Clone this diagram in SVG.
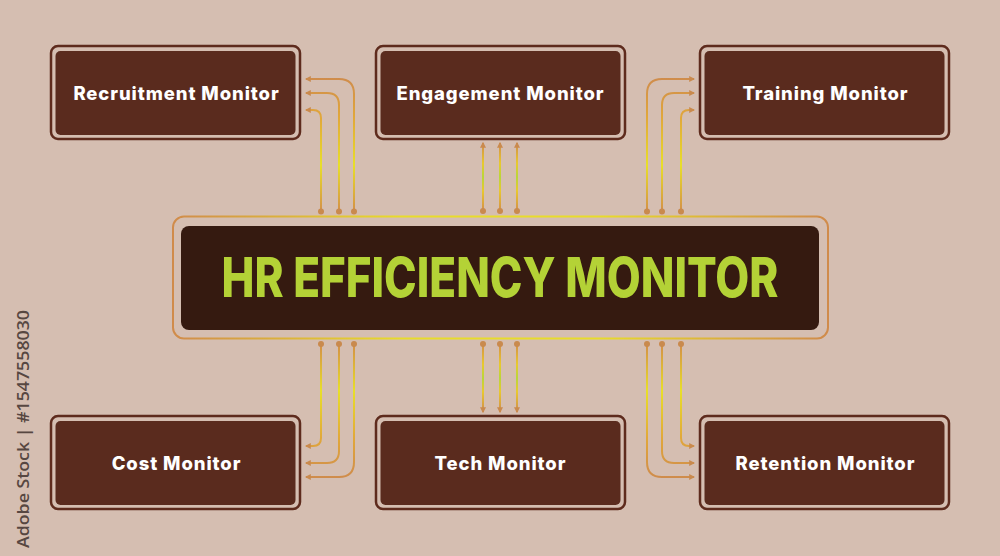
<svg xmlns="http://www.w3.org/2000/svg" width="1000" height="556" viewBox="0 0 1000 556">
<style>
.frame{fill:none;stroke:#5e2b1d;stroke-width:2.5}
.fill{fill:#5a2b1e}
.lbl{font-family:Inter,"Open Sans","Liberation Sans",sans-serif;font-weight:800;font-size:18.5px;letter-spacing:0.9px;fill:#ffffff;text-anchor:middle;dominant-baseline:central}
.dot{fill:#c98a4e}
.ln{fill:none;stroke-width:2}
</style>
<defs>
<marker id="ah" viewBox="0 0 10 10" refX="8" refY="5" markerWidth="6" markerHeight="6" markerUnits="userSpaceOnUse" orient="auto">
<path d="M0,0 L10,5 L0,10 z" fill="#c98a4e"/>
</marker>
<linearGradient id="gTop" gradientUnits="userSpaceOnUse" x1="0" y1="78" x2="0" y2="212">
<stop offset="0" stop-color="#cf8c4c"/><stop offset="0.3" stop-color="#e1a83a"/><stop offset="0.65" stop-color="#e8df28"/><stop offset="1" stop-color="#d38f48"/>
</linearGradient>
<linearGradient id="gBot" gradientUnits="userSpaceOnUse" x1="0" y1="344" x2="0" y2="478">
<stop offset="0" stop-color="#d38f48"/><stop offset="0.35" stop-color="#e8df28"/><stop offset="0.7" stop-color="#e1a83a"/><stop offset="1" stop-color="#cf8c4c"/>
</linearGradient>
<linearGradient id="gTM" gradientUnits="userSpaceOnUse" x1="0" y1="143" x2="0" y2="211">
<stop offset="0" stop-color="#cf8c4c"/><stop offset="0.3" stop-color="#e8c92e"/><stop offset="0.5" stop-color="#b9d63a"/><stop offset="0.7" stop-color="#e8c92e"/><stop offset="1" stop-color="#d38f48"/>
</linearGradient>
<linearGradient id="gBM" gradientUnits="userSpaceOnUse" x1="0" y1="344" x2="0" y2="412">
<stop offset="0" stop-color="#d38f48"/><stop offset="0.3" stop-color="#e8c92e"/><stop offset="0.5" stop-color="#b9d63a"/><stop offset="0.7" stop-color="#e8c92e"/><stop offset="1" stop-color="#cf8c4c"/>
</linearGradient>
<linearGradient id="gFrame" gradientUnits="userSpaceOnUse" x1="172" y1="0" x2="828" y2="0">
<stop offset="0" stop-color="#d08b4b"/><stop offset="0.35" stop-color="#e8dc2a"/><stop offset="0.65" stop-color="#e8dc2a"/><stop offset="1" stop-color="#d08b4b"/>
</linearGradient>
</defs>
<rect x="0" y="0" width="1000" height="556" fill="#d5beb1"/>
<text x="0" y="0" transform="translate(29,548) rotate(-90)" font-family="'Open Sans','Liberation Sans',sans-serif" font-size="17" font-weight="600" fill="#574741" textLength="238" lengthAdjust="spacingAndGlyphs">Adobe Stock | #1547558030</text>

<g id="connectors">
<path class="ln" stroke="url(#gTop)" marker-end="url(#ah)" d="M354,212 V94 Q354,79 339,79 H306"/>
<path class="ln" stroke="url(#gTop)" marker-end="url(#ah)" d="M339,212 V105 Q339,93 327,93 H306"/>
<path class="ln" stroke="url(#gTop)" marker-end="url(#ah)" d="M321,212 V118 Q321,110 313,110 H306"/>
<path class="ln" stroke="url(#gTop)" marker-end="url(#ah)" d="M647,212 V94 Q647,79 662,79 H694"/>
<path class="ln" stroke="url(#gTop)" marker-end="url(#ah)" d="M662,212 V105 Q662,93 674,93 H694"/>
<path class="ln" stroke="url(#gTop)" marker-end="url(#ah)" d="M681,212 V118 Q681,110 689,110 H694"/>
<path class="ln" stroke="url(#gTM)" marker-end="url(#ah)" d="M483,211 V143"/>
<path class="ln" stroke="url(#gTM)" marker-end="url(#ah)" d="M500,211 V143"/>
<path class="ln" stroke="url(#gTM)" marker-end="url(#ah)" d="M517,211 V143"/>
<path class="ln" stroke="url(#gBot)" marker-end="url(#ah)" d="M321,344 V438 Q321,446 313,446 H306"/>
<path class="ln" stroke="url(#gBot)" marker-end="url(#ah)" d="M339,344 V451 Q339,463 327,463 H306"/>
<path class="ln" stroke="url(#gBot)" marker-end="url(#ah)" d="M354,344 V462 Q354,477 339,477 H306"/>
<path class="ln" stroke="url(#gBot)" marker-end="url(#ah)" d="M681,344 V438 Q681,446 689,446 H694"/>
<path class="ln" stroke="url(#gBot)" marker-end="url(#ah)" d="M662,344 V451 Q662,463 674,463 H694"/>
<path class="ln" stroke="url(#gBot)" marker-end="url(#ah)" d="M647,344 V462 Q647,477 662,477 H694"/>
<path class="ln" stroke="url(#gBM)" marker-end="url(#ah)" d="M483,344 V412"/>
<path class="ln" stroke="url(#gBM)" marker-end="url(#ah)" d="M500,344 V412"/>
<path class="ln" stroke="url(#gBM)" marker-end="url(#ah)" d="M517,344 V412"/>
<circle class="dot" cx="321" cy="211.5" r="3"/><circle class="dot" cx="339" cy="211.5" r="3"/><circle class="dot" cx="354" cy="211.5" r="3"/>
<circle class="dot" cx="483" cy="211" r="3"/><circle class="dot" cx="500" cy="211" r="3"/><circle class="dot" cx="517" cy="211" r="3"/>
<circle class="dot" cx="647" cy="211.5" r="3"/><circle class="dot" cx="662" cy="211.5" r="3"/><circle class="dot" cx="681" cy="211.5" r="3"/>
<circle class="dot" cx="321" cy="344" r="3"/><circle class="dot" cx="339" cy="344" r="3"/><circle class="dot" cx="354" cy="344" r="3"/>
<circle class="dot" cx="483" cy="344" r="3"/><circle class="dot" cx="500" cy="344" r="3"/><circle class="dot" cx="517" cy="344" r="3"/>
<circle class="dot" cx="647" cy="344" r="3"/><circle class="dot" cx="662" cy="344" r="3"/><circle class="dot" cx="681" cy="344" r="3"/>
</g>

<g id="hub">
<rect x="173" y="216.5" width="655" height="122" rx="11" fill="none" stroke="url(#gFrame)" stroke-width="2"/>
<rect x="181" y="226" width="638" height="104" rx="8" fill="#351a10"/>
<text x="500" y="297" font-family="Inter,'Liberation Sans',sans-serif" font-weight="800" font-size="55" fill="#b4d236" text-anchor="middle" textLength="557" lengthAdjust="spacingAndGlyphs">HR EFFICIENCY MONITOR</text>
</g>

<g id="recruitment">
<rect class="frame" x="51" y="46" width="249" height="93" rx="7"/>
<rect class="fill" x="55.5" y="51" width="240" height="84" rx="5"/>
<text class="lbl" x="176.5" y="93">Recruitment Monitor</text>
</g>
<g id="engagement">
<rect class="frame" x="376" y="46" width="249" height="93" rx="7"/>
<rect class="fill" x="380.5" y="51" width="240" height="84" rx="5"/>
<text class="lbl" x="500.5" y="93">Engagement Monitor</text>
</g>
<g id="training">
<rect class="frame" x="700" y="46" width="249" height="93" rx="7"/>
<rect class="fill" x="704.5" y="51" width="240" height="84" rx="5"/>
<text class="lbl" x="825.5" y="93">Training Monitor</text>
</g>
<g id="cost">
<rect class="frame" x="51" y="416" width="249" height="93" rx="7"/>
<rect class="fill" x="55.5" y="421" width="240" height="84" rx="5"/>
<text class="lbl" x="176.5" y="463">Cost Monitor</text>
</g>
<g id="tech">
<rect class="frame" x="376" y="416" width="249" height="93" rx="7"/>
<rect class="fill" x="380.5" y="421" width="240" height="84" rx="5"/>
<text class="lbl" x="500.5" y="463">Tech Monitor</text>
</g>
<g id="retention">
<rect class="frame" x="700" y="416" width="249" height="93" rx="7"/>
<rect class="fill" x="704.5" y="421" width="240" height="84" rx="5"/>
<text class="lbl" x="825.5" y="463">Retention Monitor</text>
</g>
</svg>
